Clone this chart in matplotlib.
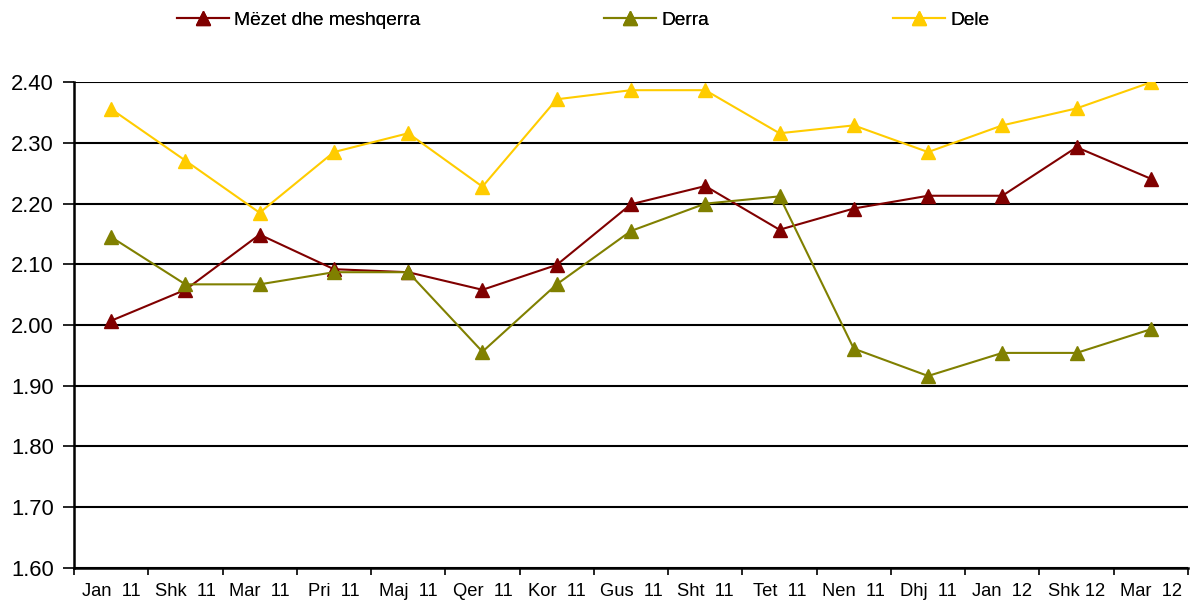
import matplotlib.pyplot as plt
import numpy as np

plt.rcParams['font.family'] = ['Liberation Sans', 'DejaVu Sans']

months = ['Jan  11', 'Shk  11', 'Mar  11', 'Pri  11', 'Maj  11', 'Qer  11', 'Kor  11', 'Gus  11',
          'Sht  11', 'Tet  11', 'Nen  11', 'Dhj  11', 'Jan  12', 'Shk 12', 'Mar  12']
mezet = [2.007, 2.058, 2.149, 2.092, 2.087, 2.058, 2.099, 2.199, 2.229, 2.157, 2.192, 2.213, 2.213, 2.293, 2.241]
derra = [2.145, 2.067, 2.067, 2.087, 2.087, 1.956, 2.067, 2.155, 2.200, 2.212, 1.961, 1.916, 1.954, 1.954, 1.993]
dele = [2.356, 2.271, 2.185, 2.285, 2.316, 2.228, 2.372, 2.387, 2.387, 2.316, 2.329, 2.285, 2.329, 2.357, 2.400]

series = [('Mëzet dhe meshqerra', mezet, '#800000'),
          ('Derra', derra, '#808000'),
          ('Dele', dele, '#FFCC00')]
# left edge of each legend entry, figure fraction
legend_x = [0.1486, 0.507, 0.750]

fig = plt.figure(figsize=(11.91, 6.06), dpi=100)
ax = fig.add_axes([0.0621, 0.0632, 0.9354, 0.801])

x = np.arange(len(months))
lines = []
for name, vals, col in series:
    ln, = ax.plot(x, vals, color=col, lw=1.5, marker='^', markersize=10, label=name, zorder=3)
    lines.append(ln)

ax.set_ylim(1.6, 2.4)
yt = np.arange(1.6, 2.41, 0.1)
ax.set_yticks(yt)
ax.set_yticklabels(['%.2f' % v for v in yt], fontsize=15.8)
ax.set_xlim(-0.5, len(months) - 0.5)
ax.yaxis.grid(True, color='black', lw=1.5)
ax.set_axisbelow(True)

# labels at category centres, tick marks at category boundaries
ax.set_xticks(x)
ax.set_xticklabels(months, fontsize=13.2)
ax.tick_params(axis='x', which='major', length=0, pad=11)
ax.set_xticks(np.arange(-0.5, len(months), 1.0), minor=True)
ax.tick_params(axis='x', which='minor', length=5, width=1.2, color='black')
ax.tick_params(axis='y', length=8, width=1.2, pad=6.5)

for s in ['top', 'right']:
    ax.spines[s].set_visible(False)
for s in ['left', 'bottom']:
    ax.spines[s].set_linewidth(1.8)

for ln, lx in zip(lines, legend_x):
    leg = fig.legend(handles=[ln], loc='center left', bbox_to_anchor=(lx, 0.967), frameon=False,
                     fontsize=13.8, handlelength=2.7, handletextpad=0.3, borderpad=0, borderaxespad=0)
    fig.add_artist(leg)

plt.savefig('out.png', dpi=100)
